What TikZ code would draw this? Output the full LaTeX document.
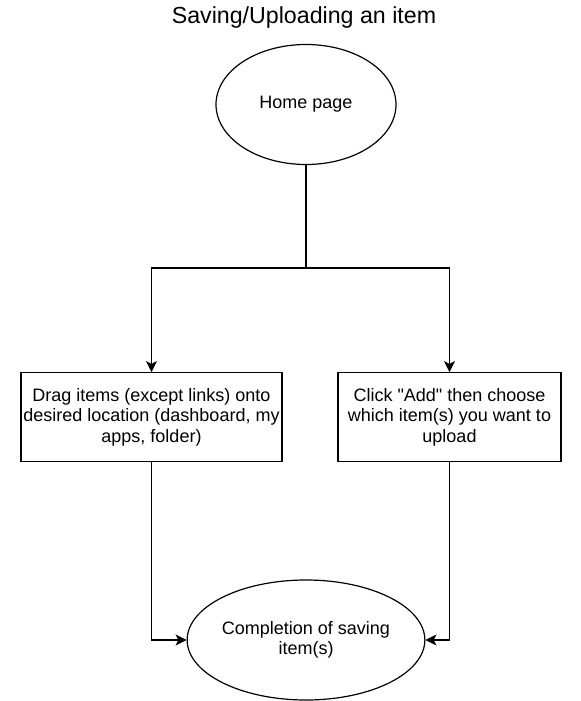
\documentclass[tikz,border=0pt]{standalone}
\usepackage{fontspec}
\setmainfont{Liberation Sans}[Ligatures=TeXOff]
\usetikzlibrary{positioning,shapes.geometric,arrows.meta}
\tikzset{
  flowfont/.style={font=\fontsize{9}{10.25}\selectfont},
  flowoval/.style={draw, ellipse, line width=0.6pt, inner sep=0pt, minimum width=90pt, minimum height=60pt, align=center},
  flowbox/.style={draw, rectangle, line width=0.6pt, inner sep=0pt, minimum height=44.5pt, align=center},
  flowline/.style={line width=0.6pt},
  flowarrow/.style={flowline, -{Stealth[length=5.5pt, width=5.5pt, inset=1.4pt]}},
}

\begin{document}
\begin{tikzpicture}[flowfont, x=0.5pt, y=-0.5pt]
  \useasboundingbox (0,0) rectangle (581,701);

  % Title
  \node[font=\fontsize{11.6}{14}\selectfont] (title) at (304,18) {Saving/Uploading an item};

  % Start and end
  \node[flowoval] (home) at (306,104.5) {Home page};
  \node[flowoval] (done) at (306,640) {Completion of saving\\item(s)};

  % Two ways to add an item
  \node[flowbox, minimum width=130.5pt] (drag) at (151.5,417.2)
    {Drag items (except links) onto\\desired location (dashboard, my\\apps, folder)};
  \node[flowbox, minimum width=111.5pt] (click) at (449.5,417.2)
    {Click "Add" then choose\\which item(s) you want to\\upload};

  % Branch
  \coordinate (split) at (306,268);
  \draw[flowline] (home.south) -- (split);
  \draw[flowarrow] (split) -| (drag.north);
  \draw[flowarrow] (split) -| (click.north);

  % Join
  \draw[flowarrow] (drag.south) |- (done.west);
  \draw[flowarrow] (click.south) |- (done.east);
\end{tikzpicture}
\end{document}
